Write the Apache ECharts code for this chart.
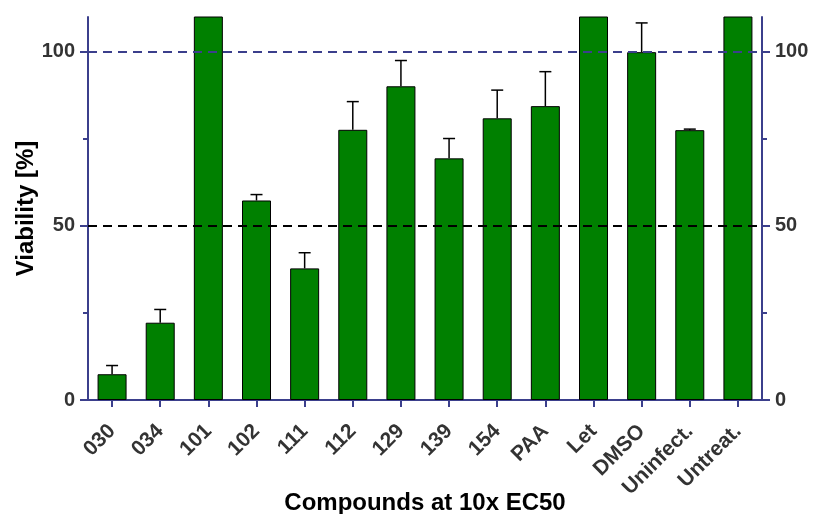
<!DOCTYPE html>
<html>
<head>
<meta charset="utf-8">
<script src="https://cdn.jsdelivr.net/npm/echarts@6/dist/echarts.min.js"></script>
<style>
  html, body { margin: 0; padding: 0; background: #fff; }
  #chart { width: 814px; height: 514px; }
</style>
</head>
<body>
<div id="chart"></div>
<script>
// Cell viability per compound (mean and upper SD)
const categories = ['030', '034', '101', '102', '111', '112', '129', '139', '154', 'PAA', 'Let', 'DMSO', 'Uninfect.', 'Untreat.'];
const viability = [7.4, 22.2, 118, 57.3, 37.8, 77.6, 90.1, 69.4, 80.9, 84.4, 118, 99.9, 77.5, 118];
const errorUp = [2.5, 3.8, 0, 1.7, 4.5, 8.1, 7.4, 5.7, 8.1, 9.9, 0, 8.4, 0.3, 0];
const yTicks = [0, 50, 100];
const yMinorTicks = [25, 75];

const AXIS = '#3b3f8c';
const FONT = '"Liberation Sans", Arial, Helvetica, sans-serif';

const chart = echarts.init(document.getElementById('chart'));

// Main value axis: line, major ticks and labels
function majorAxis(position, extra) {
  return Object.assign({
    type: 'value',
    position: position,
    min: 0,
    max: 110,
    splitLine: { show: false },
    axisLine: { show: true, lineStyle: { color: AXIS, width: 2 } },
    axisTick: { show: true, length: 8, customValues: yTicks, lineStyle: { color: AXIS, width: 2 } },
    axisLabel: {
      show: true, customValues: yTicks,
      color: '#333', fontFamily: FONT, fontWeight: 'bold', fontSize: 20, margin: 13
    }
  }, extra || {});
}

// Overlay axis that only carries the short intermediate ticks
function minorAxis(position) {
  return {
    type: 'value',
    position: position,
    min: 0,
    max: 110,
    splitLine: { show: false },
    axisLine: { show: false },
    axisLabel: { show: false },
    axisTick: { show: true, length: 5, customValues: yMinorTicks, lineStyle: { color: AXIS, width: 2 } }
  };
}

chart.setOption({
  animation: false,
  grid: { left: 88, right: 52, top: 17, bottom: 114, containLabel: false, outerBoundsMode: 'none' },
  xAxis: {
    type: 'category',
    data: categories,
    name: 'Compounds at 10x EC50',
    nameLocation: 'middle',
    nameGap: 91,
    nameMoveOverlap: false,
    nameTextStyle: { color: '#000', fontFamily: FONT, fontWeight: 'bold', fontSize: 24 },
    axisLine: { show: true, lineStyle: { color: AXIS, width: 2 } },
    axisTick: { show: true, alignWithLabel: true, length: 7, lineStyle: { color: AXIS, width: 2 } },
    axisLabel: {
      color: '#333', fontFamily: FONT, fontWeight: 'bold', fontSize: 21,
      rotate: 45, margin: 28, interval: 0
    }
  },
  yAxis: [
    majorAxis('left', {
      name: 'Viability [%]',
      nameLocation: 'middle',
      nameGap: 50,
      nameMoveOverlap: false,
      nameTextStyle: { color: '#000', fontFamily: FONT, fontWeight: 'bold', fontSize: 24 }
    }),
    majorAxis('right'),
    minorAxis('left'),
    minorAxis('right')
  ],
  series: [
    {
      // reference lines at 100 % and 50 %, kept behind the bars
      type: 'line',
      data: [],
      z: 1,
      markLine: {
        silent: true,
        symbol: 'none',
        label: { show: false },
        data: [
          { yAxis: 100, lineStyle: { color: AXIS, width: 2, type: [9, 6] } },
          { yAxis: 50, lineStyle: { color: '#000', width: 2, type: [9, 6] } }
        ]
      }
    },
    {
      type: 'bar',
      data: viability,
      barWidth: 29,
      clip: true,
      itemStyle: { color: '#008000', borderColor: '#000', borderWidth: 1 },
      z: 2
    },
    {
      type: 'custom',
      z: 3,
      clip: true,
      data: viability.map((v, i) => [i, v, errorUp[i]]),
      renderItem: function (params, api) {
        const i = api.value(0);
        const v = api.value(1);
        const e = api.value(2);
        if (!(e > 0) || v >= 110) return null;
        const base = api.coord([i, v]);
        const top = api.coord([i, v + e]);
        const half = 6;
        const style = { stroke: '#000', lineWidth: 1.5 };
        return {
          type: 'group',
          children: [
            { type: 'line', shape: { x1: base[0], y1: base[1], x2: top[0], y2: top[1] }, style: style },
            { type: 'line', shape: { x1: top[0] - half, y1: top[1], x2: top[0] + half, y2: top[1] }, style: style }
          ]
        };
      }
    }
  ]
});
</script>
</body>
</html>
